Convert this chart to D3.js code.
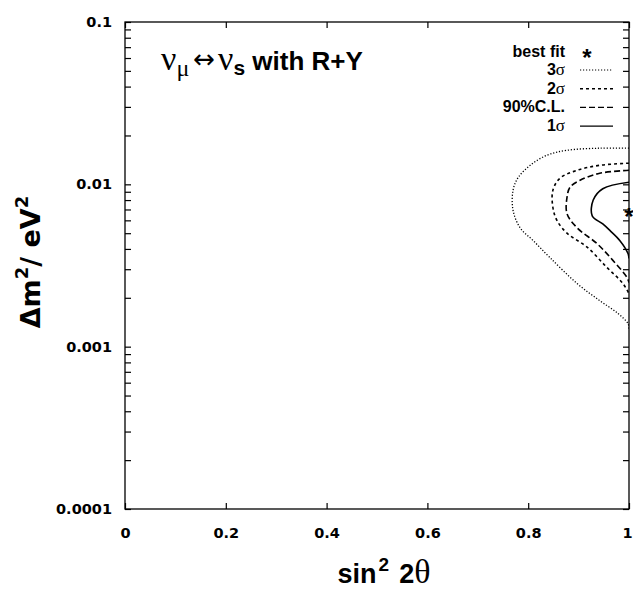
<!DOCTYPE html>
<html>
<head>
<meta charset="utf-8">
<script src="https://cdn.jsdelivr.net/npm/d3@7"></script>
<style>
body { margin:0; background:#fff; }
text { font-family: "Liberation Sans", Arial, Helvetica, sans-serif; }
.greek { font-family: "Liberation Serif", "Times New Roman", serif; font-weight: normal; }
.wide { font-family: "DejaVu Sans", sans-serif; }
</style>
</head>
<body>
<svg id="chart" width="633" height="592"></svg>
<script>
// tick labels
var xTicks = [0, 0.2, 0.4, 0.6, 0.8, 1];
var yTicks = [0.0001, 0.001, 0.01, 0.1];
var yTickLabels = ["0.0001", "0.001", "0.01", "0.1"];

// contours: [sin^2 2theta, dm^2]
var sigma3 = [[1.0,0.0167],[0.942,0.0167],[0.877,0.0162],[0.837,0.0151],[0.804,0.0131],[0.780,0.0110],
  [0.770,0.0092],[0.770,0.0069],[0.784,0.0054],[0.810,0.0045],[0.843,0.00354],[0.897,0.00245],
  [0.942,0.00192],[0.976,0.00162],[0.998,0.00139],[1.0,0.00129]];
var sigma2 = [[1.0,0.0135],[0.942,0.0131],[0.897,0.0122],[0.863,0.0109],[0.849,0.0092],[0.849,0.0072],
  [0.857,0.0060],[0.877,0.0050],[0.917,0.0041],[0.956,0.00308],[0.988,0.00245],[1.0,0.00212]];
var cl90 = [[1.0,0.0122],[0.942,0.0117],[0.903,0.0106],[0.883,0.0096],[0.877,0.0083],[0.877,0.0066],
  [0.897,0.0054],[0.937,0.0043],[0.968,0.0034],[0.996,0.00267],[1.0,0.00248]];
var sigma1 = [[1.0,0.0103],[0.948,0.0094],[0.929,0.0080],[0.927,0.0064],[0.948,0.0057],[0.962,0.0052],
  [0.982,0.0045],[0.998,0.00375],[1.0,0.00349]];
var bestFit = [1.0, 0.0065];

var legendNames = ["3\u03c3", "2\u03c3", "90%C.L.", "1\u03c3"];
var legendDash = ["1.2,1.8", "3,3", "6,3", null];
var contours = [sigma3, sigma2, cl90, sigma1];

var svg = d3.select("#chart");
var x = d3.scaleLinear().domain([0, 1]).range([125, 629]);
var y = d3.scaleLog().domain([0.0001, 0.1]).range([509, 22]);

svg.append("clipPath").attr("id", "clip").append("rect")
  .attr("x", 125).attr("y", 22).attr("width", 504).attr("height", 487);

// frame
svg.append("rect").attr("x", 125).attr("y", 22).attr("width", 504).attr("height", 487)
  .attr("fill", "none").attr("stroke", "#000").attr("stroke-width", 1.3);

// x ticks, bottom and top, inward
var xb = svg.append("g").attr("transform", "translate(0,509)")
  .call(d3.axisBottom(x).tickValues(xTicks).tickSize(-6).tickFormat(function(d){ return d === 0 || d === 1 ? d : d3.format(".1f")(d); }));
xb.select(".domain").remove();
xb.selectAll("text").attr("dy", 0).attr("y", 29).attr("font-size", 14.5).attr("font-weight", "bold")
  .style("font-family", "'DejaVu Sans', sans-serif");
// last label sits on the window edge, keep it inside
xb.selectAll("text").filter(function(d){ return d === 1; }).attr("text-anchor", "end").attr("x", 3);
var xt = svg.append("g").attr("transform", "translate(0,22)")
  .call(d3.axisTop(x).tickValues(xTicks).tickSize(-6).tickFormat(""));
xt.select(".domain").remove();

// y ticks, minor ticks on both sides
var allY = [];
[0.0001, 0.001, 0.01].forEach(function(dec){ for (var k = 1; k < 10; k++) allY.push(dec * k); });
allY.push(0.1);
var yl = svg.append("g").attr("transform", "translate(125,0)")
  .call(d3.axisLeft(y).tickValues(allY).tickSize(-6).tickFormat(function(d){
    var i = yTicks.findIndex(function(t){ return Math.abs(t - d) / t < 1e-6; });
    return i >= 0 ? yTickLabels[i] : "";
  }));
yl.select(".domain").remove();
yl.selectAll("text").attr("x", -13).attr("font-size", 14.5).attr("font-weight", "bold")
  .style("font-family", "'DejaVu Sans', sans-serif");
var yr = svg.append("g").attr("transform", "translate(629,0)")
  .call(d3.axisRight(y).tickValues(allY).tickSize(-6).tickFormat(""));
yr.select(".domain").remove();
svg.selectAll(".tick line").attr("stroke-width", 1.2);

// contours
var line = d3.line().x(function(d){ return x(d[0]); }).y(function(d){ return y(d[1]); }).curve(d3.curveCatmullRom);
var cg = svg.append("g").attr("clip-path", "url(#clip)");
contours.forEach(function(c, i){
  cg.append("path").attr("d", line(c)).attr("fill", "none").attr("stroke", "#000")
    .attr("stroke-width", i === 0 ? 1.3 : 1.6).attr("stroke-dasharray", legendDash[i]);
});
svg.append("text").attr("x", x(bestFit[0])).attr("y", y(bestFit[1]) + 10)
  .attr("text-anchor", "middle").attr("font-size", 24).attr("font-weight", "bold").text("*");

// title
var title = svg.append("text").attr("x", 161).attr("y", 70).attr("font-size", 26);
title.append("tspan").attr("class", "greek").attr("font-size", 34).text("\u03bd");
title.append("tspan").attr("class", "greek").attr("font-size", 24).attr("dy", 6).text("\u03bc");
title.append("tspan").attr("class", "wide").attr("font-size", 26).attr("dy", -8).attr("dx", 4).text("\u2194");
title.append("tspan").attr("class", "greek").attr("font-size", 34).attr("dy", 2).attr("dx", 3).text("\u03bd");
title.append("tspan").attr("font-weight", "bold").attr("font-size", 21).attr("dy", 5).text("s");
title.append("tspan").attr("font-weight", "bold").attr("dy", -5).text(" with R+Y");

// legend
var lg = svg.append("g");
lg.append("text").attr("x", 565).attr("y", 57).attr("text-anchor", "end")
  .attr("font-size", 16).attr("font-weight", "bold").text("best fit");
lg.append("text").attr("x", 587).attr("y", 66).attr("text-anchor", "middle")
  .attr("font-size", 24).attr("font-weight", "bold").text("*");
legendNames.forEach(function(n, i){
  var by = 75 + i * 18.7;
  var t = lg.append("text").attr("x", 565).attr("y", by).attr("text-anchor", "end")
    .attr("font-size", 16).attr("font-weight", "bold");
  if (n.indexOf("\u03c3") >= 0) {
    t.append("tspan").text(n.charAt(0));
    t.append("tspan").attr("class", "greek").attr("font-size", 17).text("\u03c3");
  } else {
    t.text(n);
  }
  lg.append("line").attr("x1", 580).attr("x2", 613).attr("y1", by - 5).attr("y2", by - 5)
    .attr("stroke", "#000").attr("stroke-width", i === 0 ? 1 : 1.4).attr("stroke-dasharray", legendDash[i]);
});

// axis titles
var xl = svg.append("text").attr("x", 384).attr("y", 583).attr("text-anchor", "middle")
  .attr("font-size", 27).attr("font-weight", "bold");
xl.append("tspan").text("sin");
xl.append("tspan").attr("font-size", 19).attr("dy", -12).attr("dx", 2).text("2");
xl.append("tspan").attr("dy", 12).attr("dx", 10).text("2");
xl.append("tspan").attr("class", "greek").attr("font-size", 34).text("\u03b8");

var ylab = svg.append("text").attr("transform", "translate(40,262) rotate(-90)")
  .attr("text-anchor", "middle").attr("font-size", 27).attr("font-weight", "bold")
  .style("font-family", "'DejaVu Sans', sans-serif");
ylab.append("tspan").text("\u0394m");
ylab.append("tspan").attr("font-size", 18).attr("dy", -12).text("2");
ylab.append("tspan").attr("dy", 12).text("/ eV");
ylab.append("tspan").attr("font-size", 18).attr("dy", -12).text("2");
</script>
</body>
</html>
